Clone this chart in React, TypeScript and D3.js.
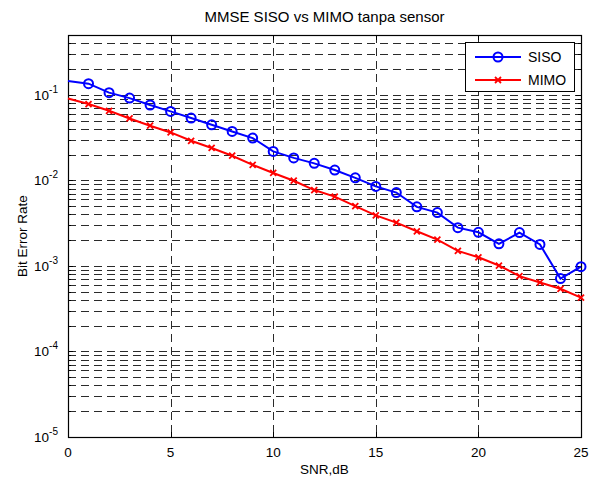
import React, { useEffect, useRef } from 'react';
import * as d3 from 'd3';

const snr = d3.range(0, 26);
const sisoBer = [
  0.145, 0.135, 0.106, 0.0915, 0.076, 0.064, 0.0535, 0.0446, 0.0373, 0.0312,
  0.0218, 0.0183, 0.0158, 0.0132, 0.0107, 0.0085, 0.0072, 0.0049, 0.0042, 0.0028,
  0.00247, 0.00181, 0.00245, 0.00178, 0.00071, 0.00098,
];
const mimoBer = [
  0.0906, 0.078, 0.065, 0.0529, 0.0435, 0.0363, 0.029, 0.0239, 0.0194, 0.0152,
  0.0122, 0.0099, 0.0077, 0.00645, 0.005, 0.0039, 0.0032, 0.00254, 0.00203, 0.0015,
  0.00126, 0.00101, 0.00076, 0.00064, 0.00054, 0.000425,
];
const xTicks = [0, 5, 10, 15, 20, 25];
const yDecades = [-5, -4, -3, -2, -1];
const seriesNames = ['SISO', 'MIMO'];

const W = 595;
const H = 480;
const margin = { top: 35, right: 14, bottom: 43, left: 68 };
const font = 'Liberation Sans, Arial, sans-serif';

const App = () => {
  const ref = useRef(null);

  useEffect(() => {
    const svg = d3.select(ref.current);
    svg.selectAll('*').remove();

    const iw = W - margin.left - margin.right;
    const ih = H - margin.top - margin.bottom;

    const x = d3.scaleLinear().domain([0, 25]).range([0, iw]);
    const y = d3.scaleLog().domain([1e-5, 0.5]).range([ih, 0]);

    svg.append('rect').attr('width', W).attr('height', H).attr('fill', '#fff');

    const g = svg.append('g').attr('transform', `translate(${margin.left},${margin.top})`);

    // all y grid values (major + minor), within domain
    const yGrid = [];
    yDecades.forEach((e) => {
      for (let k = 1; k <= 9; k++) {
        const v = k * Math.pow(10, e);
        if (v <= 0.5 + 1e-9) yGrid.push(v);
      }
    });

    // grid
    const grid = g.append('g').attr('stroke', '#2a2a2a').attr('stroke-width', 1)
      .attr('stroke-dasharray', '8,5').attr('fill', 'none');
    yGrid.forEach((v) => {
      grid.append('line').attr('x1', 0).attr('x2', iw)
        .attr('y1', Math.round(y(v)) + 0.5).attr('y2', Math.round(y(v)) + 0.5);
    });
    xTicks.slice(1, -1).forEach((v) => {
      grid.append('line').attr('y1', 0).attr('y2', ih)
        .attr('x1', Math.round(x(v)) + 0.5).attr('x2', Math.round(x(v)) + 0.5);
    });

    // ticks (inside, both sides)
    const ticks = g.append('g').attr('stroke', '#000').attr('stroke-width', 1);
    yGrid.forEach((v) => {
      const yy = Math.round(y(v)) + 0.5;
      const len = yDecades.some((e) => Math.abs(v - Math.pow(10, e)) < 1e-12) ? 5 : 3;
      ticks.append('line').attr('x1', 0).attr('x2', len).attr('y1', yy).attr('y2', yy);
      ticks.append('line').attr('x1', iw - len).attr('x2', iw).attr('y1', yy).attr('y2', yy);
    });
    xTicks.forEach((v) => {
      const xx = Math.round(x(v)) + 0.5;
      ticks.append('line').attr('x1', xx).attr('x2', xx).attr('y1', ih).attr('y2', ih - 5);
      ticks.append('line').attr('x1', xx).attr('x2', xx).attr('y1', 0).attr('y2', 5);
    });

    // frame
    g.append('rect').attr('x', 0.5).attr('y', 0.5).attr('width', iw).attr('height', ih)
      .attr('fill', 'none').attr('stroke', '#000').attr('stroke-width', 1.2);

    // tick labels
    xTicks.forEach((v) => {
      g.append('text').attr('x', x(v)).attr('y', ih + 19.5).attr('text-anchor', 'middle')
        .attr('font-family', font).attr('font-size', 13.5).text(v);
    });
    yDecades.forEach((e) => {
      const t = g.append('text').attr('x', -10).attr('y', y(Math.pow(10, e)) + 5)
        .attr('text-anchor', 'end').attr('font-family', font).attr('font-size', 13.5);
      t.append('tspan').text('10');
      t.append('tspan').attr('dy', -7).attr('font-size', 10).text(String(e));
    });

    const clip = svg.append('clipPath').attr('id', 'plotclip');
    clip.append('rect').attr('x', -1).attr('y', -1).attr('width', iw + 2).attr('height', ih + 2);

    const line = d3.line().x((d) => x(d[0])).y((d) => y(d[1]));

    const siso = snr.map((s, i) => [s, sisoBer[i]]);
    const mimo = snr.map((s, i) => [s, mimoBer[i]]);

    const plot = g.append('g');
    plot.append('path').datum(siso).attr('d', line).attr('fill', 'none')
      .attr('stroke', '#0000ff').attr('stroke-width', 2).attr('clip-path', 'url(#plotclip)');
    plot.selectAll('.sisoMark').data(siso.slice(1)).enter().append('circle')
      .attr('cx', (d) => x(d[0])).attr('cy', (d) => y(d[1])).attr('r', 4.5)
      .attr('fill', 'none').attr('stroke', '#0000ff').attr('stroke-width', 2);

    plot.append('path').datum(mimo).attr('d', line).attr('fill', 'none')
      .attr('stroke', '#ff0000').attr('stroke-width', 2).attr('clip-path', 'url(#plotclip)');
    const xm = 3;
    plot.selectAll('.mimoMark').data(mimo.slice(1)).enter().append('path')
      .attr('d', (d) => {
        const cx = x(d[0]);
        const cy = y(d[1]);
        return `M${cx - xm},${cy - xm}L${cx + xm},${cy + xm}M${cx - xm},${cy + xm}L${cx + xm},${cy - xm}`;
      })
      .attr('stroke', '#ff0000').attr('stroke-width', 1.8).attr('fill', 'none');

    // legend
    const lg = svg.append('g').attr('transform', 'translate(465,42)');
    lg.append('rect').attr('x', 0.5).attr('y', 0.5).attr('width', 109).attr('height', 49)
      .attr('fill', '#fff').attr('stroke', '#000').attr('stroke-width', 1);
    const colors = ['#0000ff', '#ff0000'];
    seriesNames.forEach((name, i) => {
      const yy = 15 + i * 23;
      lg.append('line').attr('x1', 10).attr('x2', 56).attr('y1', yy).attr('y2', yy)
        .attr('stroke', colors[i]).attr('stroke-width', 2);
      if (i === 0) {
        lg.append('circle').attr('cx', 33).attr('cy', yy).attr('r', 4.5).attr('fill', 'none')
          .attr('stroke', colors[i]).attr('stroke-width', 2);
      } else {
        lg.append('path')
          .attr('d', `M${33 - xm},${yy - xm}L${33 + xm},${yy + xm}M${33 - xm},${yy + xm}L${33 + xm},${yy - xm}`)
          .attr('stroke', colors[i]).attr('stroke-width', 1.8);
      }
      lg.append('text').attr('x', 63).attr('y', yy + 5).attr('font-family', font)
        .attr('font-size', 14).text(name);
    });

    // title and axis labels
    svg.append('text').attr('x', margin.left + iw / 2).attr('y', 22).attr('text-anchor', 'middle')
      .attr('font-family', font).attr('font-size', 15).text('MMSE SISO vs MIMO tanpa sensor');
    svg.append('text').attr('x', margin.left + iw / 2).attr('y', H - 6).attr('text-anchor', 'middle')
      .attr('font-family', font).attr('font-size', 13.5).text('SNR,dB');
    svg.append('text').attr('transform', `translate(27,${margin.top + ih / 2}) rotate(-90)`)
      .attr('text-anchor', 'middle').attr('font-family', font).attr('font-size', 13.5)
      .text('Bit Error Rate');
  }, []);

  return (
    <svg ref={ref} width={W} height={H} style={{ position: 'absolute', left: 0, top: 0 }}></svg>
  );
};

export default App;
